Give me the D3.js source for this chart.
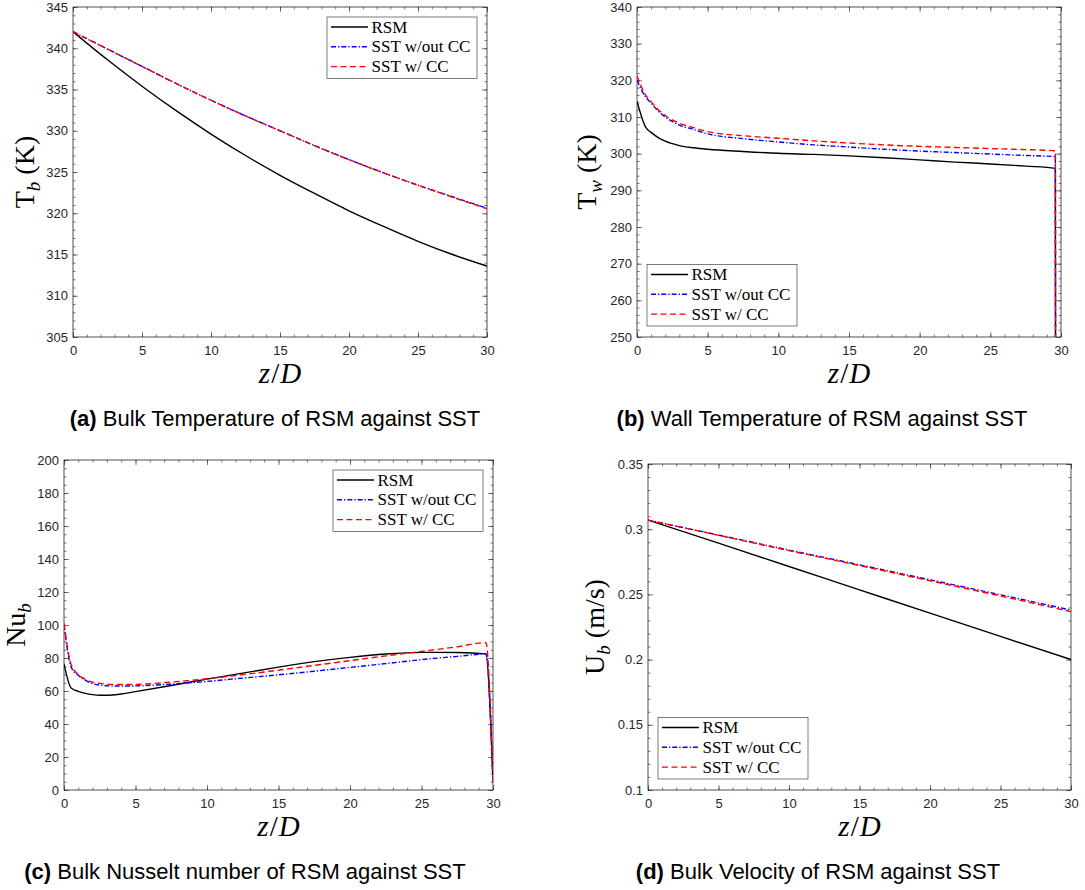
<!DOCTYPE html>
<html><head><meta charset="utf-8">
<script src="https://cdn.jsdelivr.net/npm/d3@7"></script>
<style>body{margin:0;background:#fff}svg{display:block}</style>
</head><body>
<svg id="c" width="1085" height="890"></svg>
<script>
// ---------------- data ----------------
const seriesNames = ["RSM", "SST w/out CC", "SST w/ CC"];
const xTickVals = [0, 5, 10, 15, 20, 25, 30];

// (a) bulk temperature
const zA = [0, 2.5, 5, 7.5, 10, 12.5, 15, 17.5, 20, 22.5, 25, 27.5, 30];
const tbRSM     = [342.0, 338.6, 335.4, 332.4, 329.6, 327.0, 324.6, 322.4, 320.3, 318.4, 316.6, 315.0, 313.6];
const tbSSTnoCC = [342.0, 339.9, 337.8, 335.7, 333.7, 331.8, 330.0, 328.2, 326.5, 324.9, 323.4, 322.0, 320.6];
const tbSSTCC   = [342.0, 339.9, 337.8, 335.7, 333.7, 331.8, 330.0, 328.2, 326.5, 324.9, 323.4, 321.95, 320.55];
const tbTicks = [305, 310, 315, 320, 325, 330, 335, 340, 345];

// (b) wall temperature
const zB = [0, 0.6, 1, 1.5, 2, 3, 4, 5, 7.5, 10, 12.5, 15, 17.5, 20, 22.5, 25, 27.5, 29.6, 29.62];
const twRSM     = [314.3, 307.3, 305.8, 304.4, 303.4, 302.2, 301.6, 301.2, 300.6, 300.1, 299.8, 299.4, 298.9, 298.3, 297.7, 297.2, 296.6, 296.0, 200];
const twSSTnoCC = [320.0, 315.5, 313.8, 311.6, 310.0, 307.8, 306.6, 305.4, 304.1, 303.2, 302.4, 301.8, 301.2, 300.7, 300.3, 299.9, 299.5, 299.2, 200];
const twSSTCC   = [321.2, 316.0, 314.2, 312.0, 310.4, 308.3, 307.1, 306.0, 304.9, 304.2, 303.5, 302.9, 302.4, 302.0, 301.7, 301.4, 301.1, 300.8, 200];
const twTicks = [250, 260, 270, 280, 290, 300, 310, 320, 330, 340];

// (c) bulk Nusselt number
const zC = [0, 0.5, 1, 1.5, 2, 2.5, 3, 4, 5, 7.5, 10, 12.5, 15, 17.5, 20, 22.5, 25, 27.5, 29.5, 30];
const nuRSM     = [76.5, 61.8, 59.8, 58.6, 57.8, 57.4, 57.4, 58.2, 59.6, 63.3, 67.2, 70.8, 74.5, 77.8, 80.4, 82.4, 83.4, 83.3, 82.5, 5];
const nuSSTnoCC = [100, 74.5, 69.5, 66.5, 64.5, 63.6, 63.2, 63.0, 63.1, 64.2, 65.8, 67.8, 69.8, 72.0, 74.3, 76.6, 79.0, 81.0, 82.4, 5];
const nuSSTCC   = [101, 76, 70, 67, 65.3, 64.6, 64.2, 63.9, 64.0, 65.4, 67.4, 69.9, 72.6, 75.5, 78.4, 81.3, 84.0, 86.8, 89.3, 5];
const nuTicks = [0, 20, 40, 60, 80, 100, 120, 140, 160, 180, 200];

// (d) bulk velocity
const zD = [0, 5, 10, 15, 20, 25, 30];
const ubRSM     = [0.307, 0.2893, 0.2714, 0.2535, 0.2356, 0.2178, 0.2000];
const ubSSTnoCC = [0.307, 0.2955, 0.2840, 0.2727, 0.2612, 0.2497, 0.2380];
const ubSSTCC   = [0.307, 0.2953, 0.2836, 0.2721, 0.2605, 0.2488, 0.2368];
const ubTicks = [0.1, 0.15, 0.2, 0.25, 0.3, 0.35];

const captionTags = ["(a)", "(b)", "(c)", "(d)"];
const captionTexts = [" Bulk Temperature of RSM against SST", " Wall Temperature of RSM against SST",
  " Bulk Nusselt number of RSM against SST", " Bulk Velocity of RSM against SST"];

// ---------------- drawing ----------------
const svg = d3.select("#c");
const ink = "#262626";
const serif = "'Liberation Serif', 'DejaVu Serif', serif";
const sans = "'Liberation Sans', Arial, sans-serif";
const styles = [
  {color: "#000000", dash: null, width: 1.4},
  {color: "#0000ff", dash: "5,2,1.3,2", width: 1.4},
  {color: "#ff0000", dash: "6,3.5", width: 1.4}
];

function styleAxis(sel) {
  sel.select(".domain").remove();
  sel.attr("font-family", sans).attr("font-size", 13);
  sel.selectAll("line").attr("stroke", ink).attr("stroke-width", 0.6);
  sel.selectAll("text").attr("fill", ink);
}

function drawPanel(p) {
  const g = svg.append("g");
  const x = d3.scaleLinear().domain([0, 30]).range([p.L, p.R]);
  const y = d3.scaleLinear().domain([p.yTicks[0], p.yTicks[p.yTicks.length - 1]]).range([p.B, p.T]);
  const clipId = "clip" + p.id;
  svg.append("clipPath").attr("id", clipId).append("rect")
    .attr("x", p.L).attr("y", p.T).attr("width", p.R - p.L).attr("height", p.B - p.T);

  const xMinor = d3.range(0, 30.001, 1);
  const yMinor = d3.range(p.yTicks[0], p.yTicks[p.yTicks.length - 1] + p.yMinorStep / 2, p.yMinorStep);

  // minor ticks
  g.append("g").attr("transform", `translate(0,${p.B})`)
    .call(d3.axisBottom(x).tickValues(xMinor).tickSizeInner(-2.5).tickSizeOuter(0).tickFormat("")).call(styleAxis);
  g.append("g").attr("transform", `translate(0,${p.T})`)
    .call(d3.axisTop(x).tickValues(xMinor).tickSizeInner(-2.5).tickSizeOuter(0).tickFormat("")).call(styleAxis);
  g.append("g").attr("transform", `translate(${p.L},0)`)
    .call(d3.axisLeft(y).tickValues(yMinor).tickSizeInner(-2.5).tickSizeOuter(0).tickFormat("")).call(styleAxis);
  g.append("g").attr("transform", `translate(${p.R},0)`)
    .call(d3.axisRight(y).tickValues(yMinor).tickSizeInner(-2.5).tickSizeOuter(0).tickFormat("")).call(styleAxis);

  // major ticks
  g.append("g").attr("transform", `translate(0,${p.B})`)
    .call(d3.axisBottom(x).tickValues(xTickVals).tickSizeInner(-5).tickSizeOuter(0).tickPadding(9).tickFormat(d3.format("d"))).call(styleAxis);
  g.append("g").attr("transform", `translate(0,${p.T})`)
    .call(d3.axisTop(x).tickValues(xTickVals).tickSizeInner(-5).tickSizeOuter(0).tickFormat("")).call(styleAxis);
  g.append("g").attr("transform", `translate(${p.L},0)`)
    .call(d3.axisLeft(y).tickValues(p.yTicks).tickSizeInner(-5).tickSizeOuter(0).tickPadding(5).tickFormat(p.fmt)).call(styleAxis);
  g.append("g").attr("transform", `translate(${p.R},0)`)
    .call(d3.axisRight(y).tickValues(p.yTicks).tickSizeInner(-5).tickSizeOuter(0).tickFormat("")).call(styleAxis);

  // frame
  g.append("rect").attr("x", p.L).attr("y", p.T).attr("width", p.R - p.L).attr("height", p.B - p.T)
    .attr("fill", "none").attr("stroke", ink).attr("stroke-width", 0.8);

  // series
  const line = d3.line().x(d => x(d[0])).y(d => y(d[1])).curve(d3.curveMonotoneX);
  p.series.forEach((vals, i) => {
    const pts = p.z.map((z, k) => [z, vals[k]]);
    g.append("path").datum(pts).attr("d", line).attr("fill", "none")
      .attr("stroke", styles[i].color).attr("stroke-width", styles[i].width)
      .attr("stroke-dasharray", styles[i].dash).attr("clip-path", `url(#${clipId})`);
  });

  // legend
  const lw = 150, lh = 61.5;
  const lx = p.legend === "tr" ? p.R - 10 - lw : p.L + 10;
  const ly = p.legend === "tr" ? p.T + 10 : p.B - 11 - lh;
  const lg = g.append("g").attr("transform", `translate(${lx},${ly})`);
  lg.append("rect").attr("width", lw).attr("height", lh).attr("fill", "#fff")
    .attr("stroke", ink).attr("stroke-width", 0.6);
  seriesNames.forEach((name, i) => {
    const yy = 10 + i * 19.8;
    lg.append("line").attr("x1", 4).attr("x2", 41).attr("y1", yy).attr("y2", yy)
      .attr("stroke", styles[i].color).attr("stroke-width", styles[i].width)
      .attr("stroke-dasharray", styles[i].dash);
    lg.append("text").attr("x", 44.5).attr("y", yy).attr("dy", "0.33em")
      .attr("font-family", serif).attr("font-size", 17).attr("fill", "#000").text(name);
  });

  // y label
  const yl = g.append("text").attr("transform", `translate(${p.yLabelX},${(p.T + p.B) / 2}) rotate(-90)`)
    .attr("text-anchor", "middle").attr("font-family", serif).attr("font-size", 28).attr("fill", "#000");
  yl.append("tspan").text(p.yLabel[0]);
  yl.append("tspan").attr("dy", 6).attr("font-size", 19).attr("font-style", "italic").text(p.yLabel[1]);
  if (p.yLabel[2]) yl.append("tspan").attr("dy", -6).text("\u00a0" + p.yLabel[2]);

  // x label
  const xl = g.append("text").attr("x", (p.L + p.R) / 2).attr("y", p.xLabelY)
    .attr("text-anchor", "middle").attr("font-family", serif).attr("font-size", 29).attr("fill", "#000");
  xl.append("tspan").attr("font-style", "italic").text("z");
  xl.append("tspan").attr("dx", 1).text("/");
  xl.append("tspan").attr("dx", 1).attr("font-style", "italic").text("D");

  // caption
  const cap = g.append("text").attr("x", p.capX).attr("y", p.capY).attr("text-anchor", "middle")
    .attr("font-family", sans).attr("font-size", 22).attr("fill", "#000");
  cap.append("tspan").attr("font-weight", "bold").text(captionTags[p.idx]);
  cap.append("tspan").text(captionTexts[p.idx]);
}

const fmtInt = d3.format("d");
const fmtDec = d => String(+d.toFixed(2));

drawPanel({id: "a", idx: 0, L: 73, R: 487, T: 7, B: 337, yTicks: tbTicks, yMinorStep: 1, fmt: fmtInt,
  z: zA, series: [tbRSM, tbSSTnoCC, tbSSTCC], legend: "tr",
  yLabel: ["T", "b", "(K)"], yLabelX: 34, xLabelY: 383, capX: 275, capY: 426});
drawPanel({id: "b", idx: 1, L: 637, R: 1061, T: 7, B: 337, yTicks: twTicks, yMinorStep: 2, fmt: fmtInt,
  z: zB, series: [twRSM, twSSTnoCC, twSSTCC], legend: "bl",
  yLabel: ["T", "w", "(K)"], yLabelX: 596, xLabelY: 383, capX: 822, capY: 426});
drawPanel({id: "c", idx: 2, L: 64, R: 493, T: 460, B: 790, yTicks: nuTicks, yMinorStep: 5, fmt: fmtInt,
  z: zC, series: [nuRSM, nuSSTnoCC, nuSSTCC], legend: "tr",
  yLabel: ["Nu", "b", null], yLabelX: 25, xLabelY: 836, capX: 245, capY: 879});
drawPanel({id: "d", idx: 3, L: 648, R: 1071, T: 464, B: 790, yTicks: ubTicks, yMinorStep: 0.01, fmt: fmtDec,
  z: zD, series: [ubRSM, ubSSTnoCC, ubSSTCC], legend: "bl",
  yLabel: ["U", "b", "(m/s)"], yLabelX: 604, xLabelY: 836, capX: 818, capY: 879});
</script>
</body></html>
